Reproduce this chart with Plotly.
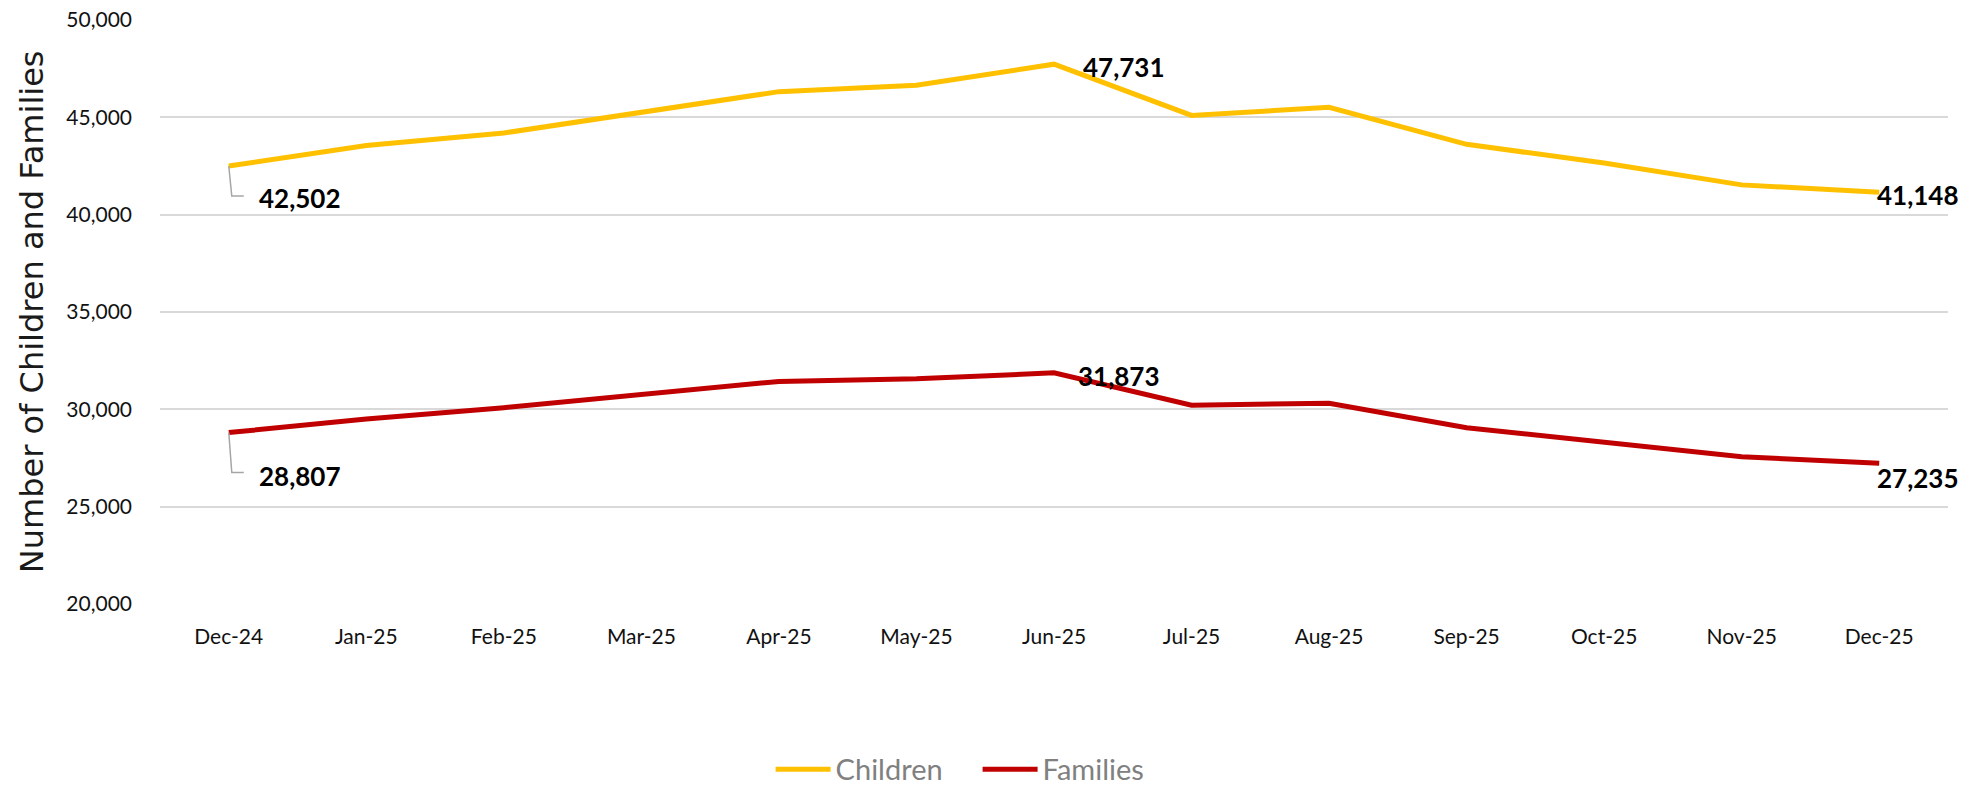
import plotly.graph_objects as go

months = ["Dec-24", "Jan-25", "Feb-25", "Mar-25", "Apr-25", "May-25", "Jun-25",
          "Jul-25", "Aug-25", "Sep-25", "Oct-25", "Nov-25", "Dec-25"]
children = [42502, 43550, 44195, 45230, 46320, 46645, 47731,
            45100, 45515, 43615, 42655, 41530, 41148]
families = [28807, 29500, 30085, 30790, 31435, 31565, 31873,
            30215, 30310, 29050, 28280, 27565, 27235]
y_ticks = [20000, 25000, 30000, 35000, 40000, 45000, 50000]

C_CHILD = "#FFC000"
C_FAM = "#C00000"
LABEL_FONT = dict(family="Lato, Carlito, sans-serif", size=26, color="#000000", weight="bold")

fig = go.Figure()
fig.add_trace(go.Scatter(x=list(range(len(months))), y=children, name="Children", mode="lines",
                         line=dict(color=C_CHILD, width=5), hoverinfo="skip"))
fig.add_trace(go.Scatter(x=list(range(len(months))), y=families, name="Families", mode="lines",
                         line=dict(color=C_FAM, width=5), hoverinfo="skip"))

annotations = []
shapes = []
last = len(months) - 1
peak = 6
for series in (children, families):
    is_child = series is children
    # first point: label below-right with elbow leader
    annotations.append(dict(x=0, y=series[0], xref="x", yref="y", text=f"{series[0]:,}",
                            showarrow=False, xanchor="left", yanchor="middle",
                            xshift=28, yshift=-32 if is_child else -43, font=LABEL_FONT))
    drop = -30 if is_child else -40
    shapes.append(dict(type="path", xref="x", yref="y", xsizemode="pixel", ysizemode="pixel",
                       xanchor=0, yanchor=series[0],
                       path=f"M0,0 L3,{drop} L15,{drop}",
                       line=dict(color="#A6A6A6", width=1.5)))
    # peak label
    annotations.append(dict(x=peak, y=series[peak], xref="x", yref="y", text=f"{series[peak]:,}",
                            showarrow=False, xanchor="left", yanchor="middle",
                            xshift=27 if is_child else 22, yshift=-3, font=LABEL_FONT))
    # last label
    annotations.append(dict(x=last, y=series[last], xref="x", yref="y", text=f"{series[last]:,}",
                            showarrow=False, xanchor="left", yanchor="middle",
                            xshift=-4, yshift=-3 if is_child else -15, font=LABEL_FONT))

annotations.append(dict(text="Number of Children and Families", xref="paper", yref="paper",
                        x=-0.0715, y=0.5, textangle=-90, showarrow=False,
                        xanchor="center", yanchor="middle",
                        font=dict(family="DejaVu Sans, sans-serif", size=32, color="#1A1A1A")))

fig.update_layout(
    width=1967, height=789,
    margin=dict(l=160, r=19, t=20, b=185, autoexpand=False),
    paper_bgcolor="white", plot_bgcolor="white",
    showlegend=True,
    legend=dict(orientation="h", x=0.497, xref="container", xanchor="center",
                y=0.025, yref="container", yanchor="middle",
                font=dict(family="Lato, sans-serif", size=29, color="#808080"),
                itemwidth=55, entrywidth=137, tracegroupgap=0),
    annotations=annotations,
    shapes=shapes,
    xaxis=dict(tickmode="array", tickvals=list(range(len(months))), ticktext=months,
               range=[-0.5, len(months) - 0.5], showgrid=False, showline=False, zeroline=False,
               ticks="", ticklabelstandoff=18,
               tickfont=dict(family="Lato, sans-serif", size=21, color="#111111")),
    yaxis=dict(range=[20000, 50000], tickvals=y_ticks, tickformat=",", showgrid=True,
               gridcolor="#D9D9D9", gridwidth=1.5, showline=False, zeroline=False,
               ticks="", ticklabelstandoff=27,
               tickfont=dict(family="Lato, sans-serif", size=21, color="#111111")),
)

fig.write_html("out.html", config={"displayModeBar": False},
               post_script="document.body.style.margin='0';document.body.style.overflow='hidden';")
